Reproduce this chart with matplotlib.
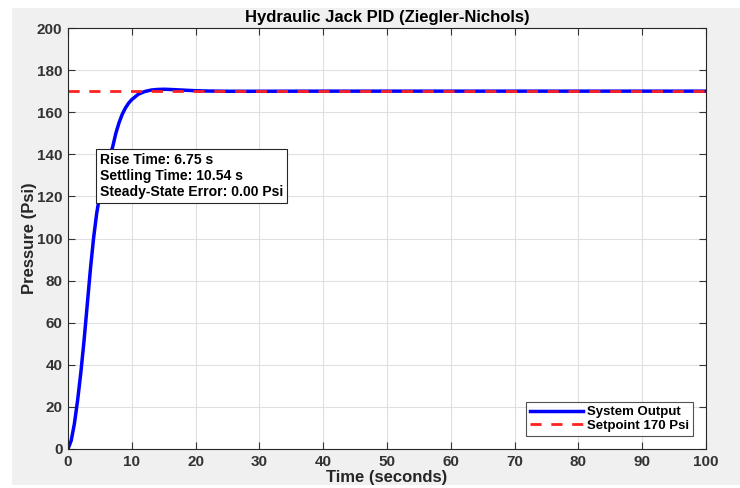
import numpy as np
import matplotlib
matplotlib.use("Agg")
import matplotlib.pyplot as plt
from matplotlib.patches import Rectangle

# response
time_s = [0, 0.5, 1.0, 1.5, 2.0, 2.5, 3.0, 3.5, 4.0, 4.5, 5.0, 5.5, 6.0, 6.5, 7.0,
          7.5, 8.0, 8.5, 9.0, 9.5, 10.0, 11.0, 12.0, 13.0, 14.0, 15.0, 16.0, 18.0,
          20.0, 22.0, 25.0, 30.0, 40.0, 100.0]
pressure = [0, 4, 12, 23, 36, 51, 68, 85, 100, 112, 121, 128, 134, 139, 143.5,
            150, 155, 159, 162, 164.3, 166, 168.5, 169.8, 170.5, 170.8, 170.9, 170.8, 170.5,
            170.2, 170.05, 169.95, 169.95, 170, 170]
setpoint = 170
rise_time = 6.75
settling_time = 10.54
ss_error = 0.00

plt.rcParams['font.family'] = ['Liberation Sans', 'DejaVu Sans']
plt.rcParams['font.weight'] = 'bold'

fig = plt.figure(figsize=(7.4, 4.88), dpi=100, facecolor='white')
# gray figure panel like a matlab window
fig.patches.append(Rectangle((12/740, 3/488), 1 - 12/740, 1 - 11/488,
                             transform=fig.transFigure, facecolor='#f0f0f0',
                             edgecolor='none', zorder=-1))
ax = fig.add_axes([68/740, 1 - 449/488, (706-68)/740, (449-28)/488])

ax.plot(time_s, pressure, color='#0000ff', lw=2.5, label='System Output')
ax.plot([0, 100], [setpoint, setpoint], color='#ff2020', lw=2, ls=(0, (4, 3.5)),
        label='Setpoint %d Psi' % setpoint)

ax.set_xlim(0, 100)
ax.set_ylim(0, 200)
ax.set_xticks(np.arange(0, 101, 10))
ax.set_yticks(np.arange(0, 201, 20))
ax.grid(True, color='#e0e0e0', lw=0.8)
ax.set_axisbelow(True)
ax.tick_params(direction='in', top=True, right=True, length=5, width=0.8,
               colors='#333333', labelsize=11, pad=4)
for s in ax.spines.values():
    s.set_color('#262626')
    s.set_linewidth(0.8)

ax.set_title('Hydraulic Jack PID (Ziegler-Nichols)', fontsize=12, fontweight='bold', pad=4)
ax.set_xlabel('Time (seconds)', fontsize=12, fontweight='bold', color='#262626', labelpad=1)
ax.set_ylabel('Pressure (Psi)', fontsize=12, fontweight='bold', color='#262626', labelpad=0)

info = 'Rise Time: %.2f s\nSettling Time: %.2f s\nSteady-State Error: %.2f Psi' % (
    rise_time, settling_time, ss_error)
ax.text(5, 118.6, info, fontsize=10.1, fontweight='bold', va='bottom', ha='left',
        linespacing=1.2,
        bbox=dict(boxstyle='square,pad=0.25', facecolor='white', edgecolor='#262626', lw=0.8))

leg = ax.legend(loc='lower right', fontsize=9.5, frameon=True, fancybox=False,
                edgecolor='#262626', handlelength=4, handletextpad=0.3,
                borderpad=0.3, labelspacing=0.1, borderaxespad=1.0)
leg.get_frame().set_linewidth(0.8)
for t in leg.get_texts():
    t.set_fontweight('bold')

fig.savefig('out.png', dpi=100, facecolor=fig.get_facecolor())
